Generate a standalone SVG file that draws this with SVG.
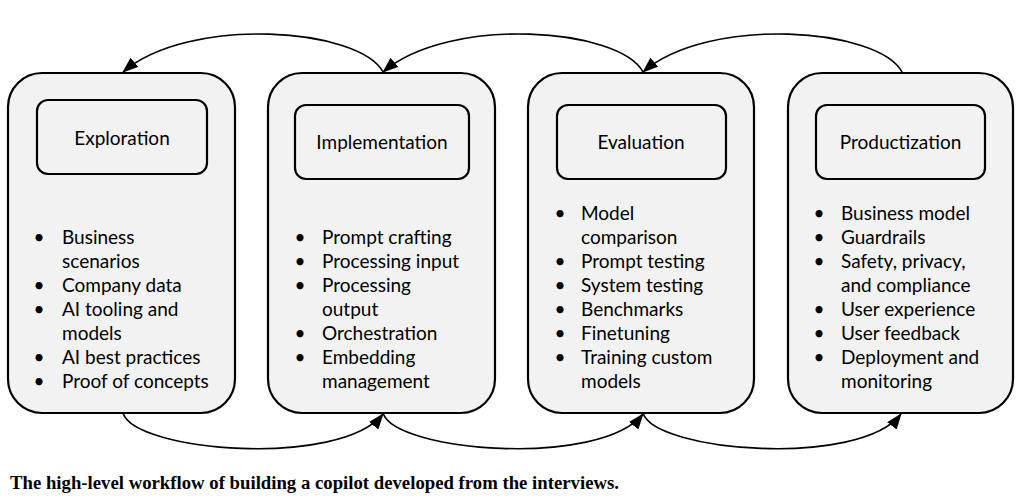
<svg xmlns="http://www.w3.org/2000/svg" width="1024" height="503" viewBox="0 0 1024 503">
<style>
.outer{fill:#f2f2f2;stroke:#000;stroke-width:2.2}
.inner{fill:#f2f2f2;stroke:#000;stroke-width:2.2}
.t{font-family:Lato,"Liberation Sans",sans-serif;font-size:19px;fill:#000}
.title{text-anchor:middle}
.b{text-anchor:middle}
.conn{fill:none;stroke:#000;stroke-width:1.6}
.cap{font-family:"Liberation Serif",serif;font-weight:bold;font-size:18.6px;fill:#000}
</style>
<defs>
<marker id="ah" viewBox="0 0 16 12" refX="15" refY="6" markerWidth="16" markerHeight="12" orient="auto" markerUnits="userSpaceOnUse">
<path d="M0,0 L16,6 L0,12 z" fill="#000"/>
</marker>
</defs>
<rect width="1024" height="503" fill="#fff"/>

<g id="exploration">
<rect class="outer" x="8" y="73" width="227" height="340" rx="34"/>
<rect class="inner" x="37" y="100" width="170" height="74" rx="11"/>
<text class="t title" x="122" y="144.5">Exploration</text>
<g class="t">
<text class="b" x="39" y="244">•</text><text x="62" y="244">Business</text>
<text x="62" y="268">scenarios</text>
<text class="b" x="39" y="292">•</text><text x="62" y="292">Company data</text>
<text class="b" x="39" y="316">•</text><text x="62" y="316">AI tooling and</text>
<text x="62" y="340">models</text>
<text class="b" x="39" y="364">•</text><text x="62" y="364">AI best practices</text>
<text class="b" x="39" y="388">•</text><text x="62" y="388">Proof of concepts</text>
</g>
</g>

<g id="implementation">
<rect class="outer" x="268" y="73" width="227" height="340" rx="34"/>
<rect class="inner" x="295" y="105" width="174" height="74" rx="11"/>
<text class="t title" x="382" y="149">Implementation</text>
<g class="t">
<text class="b" x="300" y="244">•</text><text x="322" y="244">Prompt crafting</text>
<text class="b" x="300" y="268">•</text><text x="322" y="268">Processing input</text>
<text class="b" x="300" y="292">•</text><text x="322" y="292">Processing</text>
<text x="322" y="316">output</text>
<text class="b" x="300" y="340">•</text><text x="322" y="340">Orchestration</text>
<text class="b" x="300" y="364">•</text><text x="322" y="364">Embedding</text>
<text x="322" y="388">management</text>
</g>
</g>

<g id="evaluation">
<rect class="outer" x="528" y="73" width="226" height="340" rx="34"/>
<rect class="inner" x="557" y="105" width="169" height="74" rx="11"/>
<text class="t title" x="641" y="149">Evaluation</text>
<g class="t">
<text class="b" x="560" y="220">•</text><text x="581" y="220">Model</text>
<text x="581" y="244">comparison</text>
<text class="b" x="560" y="268">•</text><text x="581" y="268">Prompt testing</text>
<text class="b" x="560" y="292">•</text><text x="581" y="292">System testing</text>
<text class="b" x="560" y="316">•</text><text x="581" y="316">Benchmarks</text>
<text class="b" x="560" y="340">•</text><text x="581" y="340">Finetuning</text>
<text class="b" x="560" y="364">•</text><text x="581" y="364">Training custom</text>
<text x="581" y="388">models</text>
</g>
</g>

<g id="productization">
<rect class="outer" x="788" y="73" width="225" height="340" rx="34"/>
<rect class="inner" x="816" y="105" width="169" height="74" rx="11"/>
<text class="t title" x="900.5" y="149">Productization</text>
<g class="t">
<text class="b" x="819" y="220">•</text><text x="841" y="220">Business model</text>
<text class="b" x="819" y="244">•</text><text x="841" y="244">Guardrails</text>
<text class="b" x="819" y="268">•</text><text x="841" y="268">Safety, privacy,</text>
<text x="841" y="292">and compliance</text>
<text class="b" x="819" y="316">•</text><text x="841" y="316">User experience</text>
<text class="b" x="819" y="340">•</text><text x="841" y="340">User feedback</text>
<text class="b" x="819" y="364">•</text><text x="841" y="364">Deployment and</text>
<text x="841" y="388">monitoring</text>
</g>
</g>

<g id="connectors">
<path class="conn" marker-end="url(#ah)" d="M383,72 C360,28 190,15 123,72"/>
<path class="conn" marker-end="url(#ah)" d="M643,72 C620,28 450,15 383,72"/>
<path class="conn" marker-end="url(#ah)" d="M902,72 C879,28 709,15 643,72"/>
<path class="conn" marker-end="url(#ah)" d="M123,413 C135,452 340,468 383,414"/>
<path class="conn" marker-end="url(#ah)" d="M383,413 C395,452 600,468 643,414"/>
<path class="conn" marker-end="url(#ah)" d="M643,413 C655,452 860,468 901,414"/>
</g>

<text class="cap" x="10" y="489" textLength="609" lengthAdjust="spacingAndGlyphs">The high-level workflow of building a copilot developed from the interviews.</text>
</svg>
